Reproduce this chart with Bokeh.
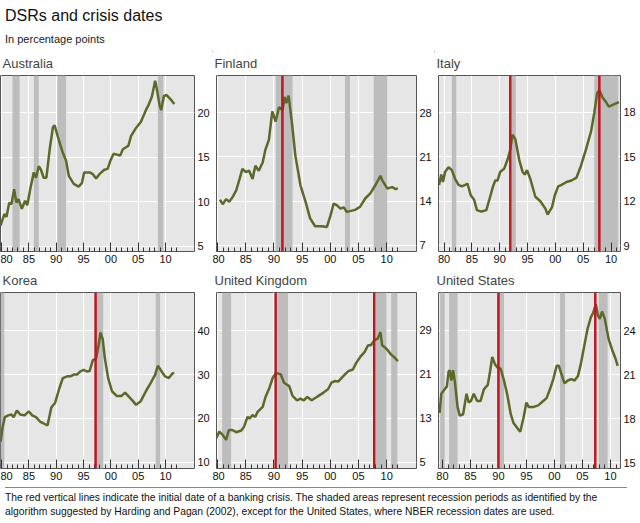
from bokeh.plotting import figure
from bokeh.layouts import column, row
from bokeh.models import Div, Span, FixedTicker, Range1d
from bokeh.embed import file_html
from bokeh.resources import INLINE

# ---------------- data ----------------
aus_x = [1979.8,1980.5,1980.9,1981.4,1981.8,1982.3,1982.7,1983.1,1983.7,1984.3,1984.7,1985.3,1985.9,1986.3,1986.8,1987.2,1987.7,1988.2,1988.8,1989.4,1989.7,1990.3,1991.2,1991.8,1992.3,1993.2,1994.1,1994.7,1995.1,1996.1,1996.7,1997.3,1997.9,1998.8,1999.4,1999.9,2000.5,2001.1,2001.7,2002.2,2003.2,2003.7,2004.6,2005.5,2006.4,2006.9,2007.5,2008.1,2008.4,2008.9,2009.2,2009.7,2010.2,2011.1,2011.6]
aus_y = [7.3,8.6,8.3,9.9,9.7,11.4,9.9,10.3,9.2,10.1,9.6,11.6,13.3,12.7,14.0,13.6,12.7,12.7,15.9,18.4,18.6,17.3,15.5,14.6,12.9,12.0,11.7,12.1,13.3,13.3,13.1,12.6,13.1,13.6,13.7,14.6,15.4,15.3,15.2,15.9,16.3,17.4,18.3,19.0,20.3,20.9,21.8,23.6,22.7,20.9,20.3,21.9,22.0,21.4,21.0]
fin_x = [1980.4,1980.9,1981.5,1982.1,1982.7,1983.3,1983.9,1984.4,1985.0,1985.6,1986.2,1986.7,1987.3,1988.0,1988.5,1989.1,1989.7,1990.3,1990.9,1991.5,1991.9,1992.2,1992.6,1993.2,1993.8,1994.7,1995.6,1996.4,1997.3,1998.5,1999.4,2000.0,2000.6,2001.2,2001.8,2002.4,2002.9,2003.5,2004.4,2005.3,2006.2,2007.1,2008.0,2008.9,2009.2,2010.1,2011.0,2011.6,2012.0]
fin_y = [14.2,13.5,14.3,13.9,14.7,15.7,17.5,19.1,18.6,18.8,17.5,19.6,18.8,20.1,22.2,23.7,28.2,26.6,28.9,28.4,30.5,29.5,30.7,26.3,21.2,16.5,13.9,11.3,10.0,10.0,9.9,11.6,13.6,13.3,12.8,13.0,12.3,12.4,12.6,13.1,14.4,15.2,16.5,18.0,17.3,16.0,16.2,15.9,16.0]
ita_x = [1979.1,1979.5,1979.8,1980.2,1980.8,1981.4,1982.0,1982.6,1983.2,1983.8,1984.2,1984.8,1985.4,1985.9,1986.7,1987.6,1988.2,1988.8,1989.2,1989.6,1990.1,1990.8,1991.4,1991.9,1992.3,1992.8,1993.5,1994.1,1994.5,1994.9,1995.5,1996.4,1997.3,1998.2,1998.6,1999.4,1999.9,2000.5,2001.1,2002.0,2002.9,2003.8,2004.6,2005.5,2006.4,2007.0,2007.5,2007.9,2008.5,2009.1,2009.6,2010.2,2010.8,2011.4]
ita_y = [13.1,13.8,13.3,14.0,14.3,14.1,13.5,13.1,13.0,13.1,13.2,12.4,12.1,11.4,11.3,11.4,12.2,13.0,13.4,13.4,14.0,14.2,14.8,15.5,16.5,16.2,14.8,14.0,13.8,14.1,13.5,12.3,12.0,11.5,11.1,11.6,12.4,13.0,13.1,13.3,13.4,13.6,14.4,15.5,16.7,18.0,19.3,19.5,19.0,18.7,18.4,18.5,18.6,18.7]
kor_x = [1979.8,1980.2,1980.6,1981.2,1981.8,1982.2,1982.8,1983.4,1984.2,1985.0,1985.6,1986.3,1987.1,1987.8,1988.4,1989.1,1989.8,1990.6,1991.2,1992.0,1992.6,1993.2,1993.8,1994.4,1995.0,1995.6,1996.1,1996.7,1997.3,1997.8,1998.1,1998.5,1998.9,1999.5,2000.2,2001.1,2001.9,2002.6,2003.2,2004.0,2004.6,2005.5,2006.4,2007.3,2008.1,2008.6,2009.3,2009.9,2010.6,2011.3,2011.6]
kor_y = [14.7,18.1,20.3,20.7,20.9,20.3,21.8,20.9,20.7,21.6,20.7,20.3,19.2,18.8,18.4,22.5,23.6,27.0,29.2,29.6,29.6,30.0,30.0,30.7,31.1,30.7,30.8,33.3,33.7,37.0,39.6,38.1,33.7,29.2,26.2,25.1,25.1,25.9,25.1,24.0,23.1,24.0,26.2,28.1,30.0,32.0,30.7,29.6,29.2,30.3,30.3]
uk_x = [1979.6,1980.3,1980.9,1981.5,1982.0,1982.6,1983.3,1984.2,1984.7,1985.3,1985.7,1986.2,1986.7,1987.1,1988.0,1988.5,1989.2,1989.8,1990.4,1991.2,1991.8,1992.2,1992.7,1993.3,1994.1,1994.7,1995.3,1995.9,1996.7,1997.6,1997.9,1998.8,1999.6,2000.2,2000.8,2001.4,2002.3,2003.2,2004.0,2004.6,2005.4,2006.1,2006.7,2007.2,2007.8,2008.4,2008.9,2009.2,2009.6,2010.2,2010.8,2011.5,2012.0]
uk_y = [9.1,10.6,10.0,9.1,10.9,10.9,10.5,10.8,11.5,13.3,13.0,13.6,13.3,14.2,15.1,16.9,18.6,20.4,21.3,21.0,19.5,19.2,18.9,17.1,16.3,16.6,16.3,16.9,16.3,16.9,17.1,17.7,18.3,19.5,19.8,19.7,20.7,21.6,21.9,23.1,24.3,25.1,26.3,26.3,27.2,27.5,28.7,26.3,26.0,25.4,24.6,24.0,23.4]
us_x = [1979.5,1979.8,1980.4,1980.8,1981.1,1981.3,1981.6,1981.9,1982.2,1982.7,1983.1,1983.7,1984.3,1984.7,1985.1,1985.6,1986.2,1986.8,1987.4,1988.1,1988.5,1988.9,1989.4,1989.8,1990.4,1991.0,1991.6,1992.2,1992.7,1993.5,1993.9,1994.5,1995.0,1995.4,1996.3,1997.1,1998.0,1998.6,1999.2,1999.8,2000.4,2000.8,2001.2,2001.8,2002.4,2003.0,2003.6,2004.2,2004.7,2005.3,2005.9,2006.5,2006.9,2007.4,2007.8,2008.1,2008.5,2009.0,2009.7,2010.3,2010.9,2011.3]
us_y = [18.4,19.7,20.0,20.2,21.2,21.3,20.6,21.3,20.6,18.8,18.2,18.3,19.7,19.1,19.2,19.7,19.2,19.2,20.0,20.3,21.2,22.2,21.7,21.5,21.4,20.6,19.6,18.3,17.7,17.3,17.1,18.1,19.1,18.8,18.8,18.9,19.2,19.4,20.0,20.7,21.6,21.6,21.1,20.4,20.6,20.7,20.6,20.9,21.7,22.9,24.1,24.9,25.2,25.8,25.0,24.8,25.3,24.8,23.4,22.7,22.1,21.6]

panels = [
    dict(name="Australia", x=aus_x, y=aus_y, yr=(4.4, 24.2), yt=[5, 10, 15, 20], xr=(1979.8, 2015.3), fw=194,
         shade=[(1982.0, 1983.3), (1985.9, 1986.8), (1990.2, 1991.8), (2008.6, 2009.6)], crisis=[]),
    dict(name="Finland", x=fin_x, y=fin_y, yr=(6.0, 33.9), yt=[7, 14, 21, 28], xr=(1979.8, 2015.3), fw=200,
         shade=[(1990.3, 1993.3), (2002.6, 2003.5), (2007.7, 2010.1)], crisis=[1991.5]),
    dict(name="Italy", x=ita_x, y=ita_y, yr=(8.6, 20.5), yt=[9, 12, 15, 18], xr=(1979.0, 2011.7), fw=182,
         shade=[(1981.4, 1982.2), (1992.1, 1992.9), (2007.0, 2011.3)], crisis=[1991.9, 2007.9]),
    dict(name="Korea", x=kor_x, y=kor_y, yr=(8.6, 48.7), yt=[10, 20, 30, 40], xr=(1979.8, 2015.3), fw=194,
         shade=[(1979.8, 1980.5), (1997.3, 1998.6), (2008.2, 2009.0)], crisis=[1997.2]),
    dict(name="United Kingdom", x=uk_x, y=uk_y, yr=(3.9, 35.9), yt=[5, 13, 21, 29], xr=(1979.8, 2015.3), fw=200,
         shade=[(1980.8, 1982.4), (1990.6, 1992.5), (2008.1, 2010.0), (2010.8, 2011.9)], crisis=[1990.3, 2007.8]),
    dict(name="United States", x=us_x, y=us_y, yr=(14.6, 26.6), yt=[15, 18, 21, 24], xr=(1979.3, 2011.8), fw=182,
         shade=[(1979.6, 1980.4), (1981.2, 1982.7), (1990.0, 1991.0), (2001.0, 2001.9), (2007.9, 2009.5)], crisis=[1990.0, 2007.3]),
]

xlab = {1980: "80", 1985: "85", 1990: "90", 1995: "95", 2000: "00", 2005: "05", 2010: "10"}
FONT = "Liberation Sans"

def make(pn, left):
    p = figure(frame_width=pn["fw"], frame_height=176, output_backend="svg", toolbar_location=None,
               x_range=Range1d(*pn["xr"]), y_range=Range1d(*pn["yr"]),
               y_axis_location="right", min_border_left=left, min_border_right=14,
               min_border_top=0, min_border_bottom=0, title=pn["name"])
    p.title.text_font = FONT
    p.title.text_font_size = "13px"
    p.title.text_font_style = "normal"
    p.title.offset = -left + 2
    p.background_fill_color = "#e6e6e6"
    p.border_fill_color = "white"
    p.outline_line_color = "#555555"
    p.grid.grid_line_color = "white"
    p.grid.grid_line_width = 1
    p.xgrid.ticker = FixedTicker(ticks=list(xlab.keys()))
    p.ygrid.ticker = FixedTicker(ticks=pn["yt"])
    ys0, ys1 = pn["yr"]
    for a, b in pn["shade"]:
        p.quad(left=[a], right=[b], bottom=[ys0], top=[ys1], fill_color="#bdbdbd", line_color=None)
    p.line(pn["x"], pn["y"], line_color="#5b6a2b", line_width=2.5)
    for c in pn["crisis"]:
        p.add_layout(Span(location=c, dimension="height", line_color="#c0141e", line_width=2.5))
    xa = p.xaxis[0]
    xa.ticker = FixedTicker(ticks=list(xlab.keys()), minor_ticks=list(range(1980, 2013)))
    xa.major_label_overrides = {k: v for k, v in xlab.items()}
    xa.major_tick_in = 9; xa.major_tick_out = 0
    xa.minor_tick_in = 4; xa.minor_tick_out = 0
    xa.axis_line_color = None
    xa.major_tick_line_color = "#333333"; xa.minor_tick_line_color = "#333333"
    xa.major_label_standoff = 3
    ya = p.yaxis[0]
    ya.ticker = FixedTicker(ticks=pn["yt"])
    ya.major_tick_in = 0; ya.major_tick_out = 0; ya.minor_tick_out = 0
    ya.axis_line_color = None
    ya.major_label_standoff = 3
    for ax in (xa, ya):
        ax.major_label_text_font = FONT
        ax.major_label_text_font_size = "11px"
        ax.major_label_text_color = "#111111"
    return p

figs = [make(pn, 0 if i % 3 == 0 else 4) for i, pn in enumerate(panels)]

header = Div(text='<div style="font-family:Liberation Sans,Arial;width:622px;border-bottom:1px solid #888;padding-bottom:3px">'
                  '<div style="font-size:16px;color:#111">DSRs and crisis dates</div>'
                  '<div style="font-size:11px;color:#222;margin-top:4px">In percentage points</div></div>',
             width=624, height=38)
foot = Div(text='<div style="font-family:Liberation Sans,Arial;font-size:10.3px;line-height:14px;color:#111;width:622px;border-top:1px solid #888;padding-top:3px">'
                'The red vertical lines indicate the initial date of a banking crisis. The shaded areas represent recession periods as identified by the '
                'algorithm suggested by Harding and Pagan (2002), except for the United States, where NBER recession dates are used.</div>',
           width=624, height=36)

layout = column(header, row(*figs[:3], spacing=0), row(*figs[3:], spacing=0), foot, spacing=0)
open("out.html", "w").write(file_html(layout, INLINE))
